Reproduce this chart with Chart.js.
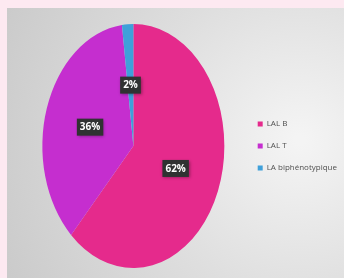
<!DOCTYPE html>
<html>
<head>
<meta charset="utf-8">
<script src="https://cdn.jsdelivr.net/npm/chart.js@4/dist/chart.umd.min.js"></script>
<style>
html,body{margin:0;padding:0;background:#fde9f1;}
#wrap{width:344px;height:278px;position:relative;}
</style>
</head>
<body>
<div id="wrap"><canvas id="c" width="344" height="278"></canvas></div>
<script>
const categories = ["LAL B", "LAL T", "LA biphénotypique"];
const values = [62, 36, 2];
const valueLabels = ["62%", "36%", "2%"];
const colors = ["#e52a8c", "#c52ecf", "#3fa0da"];
const yStretch = 122 / 91;

const bgPlugin = {
  id: 'bg',
  beforeDraw(chart) {
    const ctx = chart.ctx;
    ctx.save();
    ctx.fillStyle = '#fde9f1';
    ctx.fillRect(0, 0, chart.width, chart.height);
    const g = ctx.createRadialGradient(300, 140, 5, 300, 140, 320);
    g.addColorStop(0, '#f4f4f4');
    g.addColorStop(0.5, '#dedede');
    g.addColorStop(1, '#cbcbcb');
    ctx.fillStyle = g;
    ctx.fillRect(7, 8, chart.width - 7, chart.height - 8);
    ctx.restore();
  }
};

const ellipsePlugin = {
  id: 'ellipse',
  beforeDatasetsDraw(chart) {
    const meta = chart.getDatasetMeta(0);
    const a = meta.data[0];
    const ctx = chart.ctx;
    ctx.save();
    ctx.translate(a.x, a.y);
    ctx.scale(1, yStretch);
    ctx.translate(-a.x, -a.y);
  },
  afterDatasetsDraw(chart) {
    const ctx = chart.ctx;
    ctx.restore();
    const meta = chart.getDatasetMeta(0);
    ctx.save();
    ctx.font = 'bold 10px "Liberation Sans Narrow", "Open Sans", sans-serif';
    ctx.textAlign = 'center';
    ctx.textBaseline = 'middle';
    meta.data.forEach((arc, i) => {
      const p = arc.tooltipPosition();
      const x = p.x;
      const y = arc.y + (p.y - arc.y) * yStretch;
      const txt = valueLabels[i];
      const w = ctx.measureText(txt).width + 6;
      const h = 17;
      ctx.shadowColor = 'rgba(0,0,0,0.35)';
      ctx.shadowBlur = 3;
      ctx.shadowOffsetX = 1;
      ctx.shadowOffsetY = 1;
      ctx.fillStyle = '#303232';
      ctx.fillRect(x - w / 2, y - h / 2, w, h);
      ctx.shadowColor = 'transparent';
      ctx.fillStyle = '#ffffff';
      ctx.fillText(txt, x, y + 0.5);
    });
    ctx.restore();
  }
};

new Chart(document.getElementById('c'), {
  type: 'pie',
  data: {
    labels: categories,
    datasets: [{
      data: values,
      backgroundColor: colors,
      borderWidth: 0
    }]
  },
  options: {
    responsive: false,
    animation: false,
    events: [],
    layout: { padding: { left: 23, top: 55, bottom: 41, right: -3 } },
    plugins: {
      tooltip: { enabled: false },
      legend: {
        position: 'right',
        align: 'center',
        labels: {
          boxWidth: 5,
          boxHeight: 5,
          padding: 14,
          color: '#505050',
          font: { family: '"Open Sans", sans-serif', size: 8 }
        }
      }
    }
  },
  plugins: [bgPlugin, ellipsePlugin]
});
</script>
</body>
</html>
